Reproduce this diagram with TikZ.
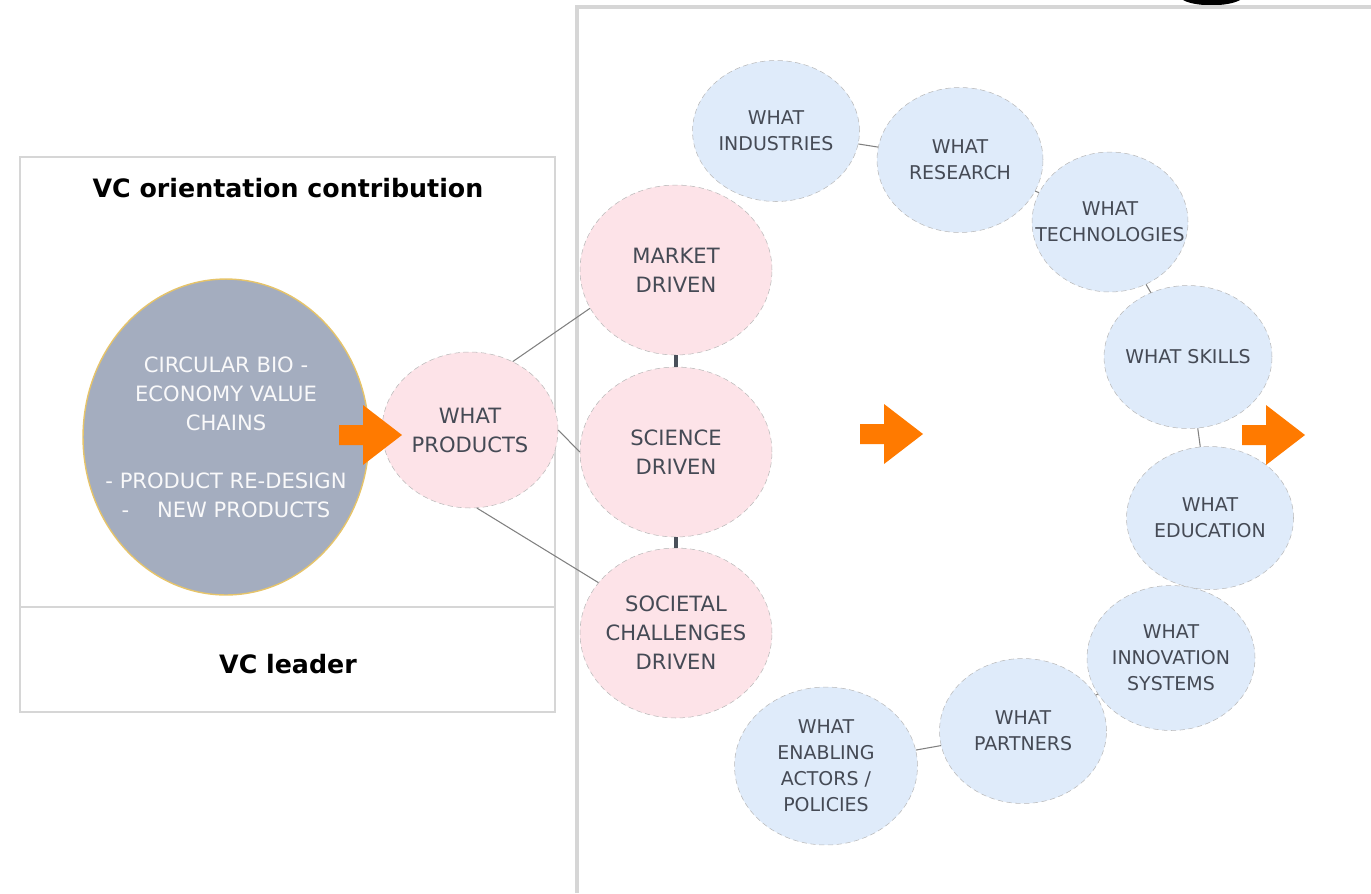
\documentclass[tikz,border=0pt]{standalone}
\usepackage{fontspec}
\setmainfont{DejaVu Sans}
\usepackage{tikz}
\usetikzlibrary{shapes.geometric,positioning}
\definecolor{pinkfill}{HTML}{FDE3E8}
\definecolor{bluefill}{HTML}{DFEBFA}
\definecolor{chainfill}{HTML}{A4ADBF}
\definecolor{chainrim}{HTML}{E6C46A}
\definecolor{textgray}{HTML}{454A55}
\definecolor{linkdark}{HTML}{4A505A}
\definecolor{panelgray}{HTML}{D6D6D6}
\definecolor{arroworange}{HTML}{FF7A00}
\tikzset{bubble/.style={ellipse, draw=gray!55, densely dashed, line width=0.3pt,
		inner sep=0pt},
	pinktext/.style={align=center, text=textgray, font=\fontsize{12}{16.5}\selectfont},
	bluetext/.style={align=center, text=textgray, font=\fontsize{10.8}{14.8}\selectfont},
	pinkbubble/.style={bubble, fill=pinkfill, label={[pinktext]center:{#1}}},
	bluebubble/.style={bubble, fill=bluefill, label={[bluetext]center:{#1}}},
	link/.style={draw=gray, line width=0.6pt},
	thicklink/.style={draw=linkdark, line width=2.8pt},
	panel/.style={draw=panelgray, line width=1.2pt}}
\tikzstyle{arrowfill}=[fill=arroworange]
\newcommand{\orangearrow}[1]{%
	\fill[arrowfill] (#1) ++(0,-10) -- ++(24,0) -- ++(0,-20) -- ++(39,30)
	-- ++(-39,30) -- ++(0,-20) -- ++(-24,0) -- cycle;}

\begin{document}
\begin{tikzpicture}[x=0.02cm, y=-0.02cm]
	\useasboundingbox (0,0) rectangle (1371,893);
	% panels
	\draw[panel] (20,157) rectangle (555,712);
	\draw[panel] (20,607) -- (555,607);
	\fill[black] (1183,0) .. controls (1195,7) and (1228,7) .. (1240,0) -- cycle;
	\draw[panel, line width=2pt] (577,893) -- (577,7) -- (1371,7);
	\node[font=\fontsize{14.4}{17}\selectfont\bfseries] (title) at (288,188) {VC orientation contribution};
	\node[font=\fontsize{14.4}{17}\selectfont\bfseries] (leader) at (288,664) {VC leader};
	
	% value chain and products
	\node[ellipse, draw=chainrim, line width=0.8pt, fill=chainfill, inner sep=0pt,
	minimum width=5.72cm, minimum height=6.32cm,
	label={[align=center, text=white!93!chainfill, font=\fontsize{12}{16.5}\selectfont]center:{CIRCULAR BIO -\\ ECONOMY VALUE\\ CHAINS\\[16.5pt]
		- PRODUCT RE-DESIGN\\ -\quad\ NEW PRODUCTS}}] (chain) at (226,437) {};
	\node[pinkbubble={WHAT\\ PRODUCTS}, minimum width=3.52cm, minimum height=3.12cm] (prod) at (470,430) {};
	\node[pinkbubble={MARKET\\ DRIVEN}, minimum width=3.84cm, minimum height=3.4cm] (mkt) at (676,270) {};
	\node[pinkbubble={SCIENCE\\ DRIVEN}, minimum width=3.84cm, minimum height=3.4cm] (sci) at (676,452) {};
	\node[pinkbubble={SOCIETAL\\ CHALLENGES\\ DRIVEN}, minimum width=3.84cm, minimum height=3.4cm] (soc) at (676,633) {};
	
	\draw[link] (prod.58) -- (mkt.204);
	\draw[link] (prod.east) -- (sci.west);
	\draw[link] (prod.275) -- (soc.147);
	\draw[thicklink] (mkt) -- (sci);
	\draw[thicklink] (sci) -- (soc);
	
	% the what-circle
	\node[bluebubble={WHAT\\ INDUSTRIES}, minimum width=3.34cm, minimum height=2.82cm] (ind) at (776,131) {};
	\node[bluebubble={WHAT\\ RESEARCH}, minimum width=3.32cm, minimum height=2.9cm] (res) at (960,160) {};
	\node[bluebubble={WHAT\\ TECHNOLOGIES}, minimum width=3.12cm, minimum height=2.8cm] (tech) at (1110,222) {};
	\node[bluebubble={WHAT SKILLS}, minimum width=3.36cm, minimum height=2.86cm] (skill) at (1188,357) {};
	\node[bluebubble={WHAT\\ EDUCATION}, minimum width=3.34cm, minimum height=2.86cm] (edu) at (1210,518) {};
	\node[bluebubble={WHAT\\ INNOVATION\\ SYSTEMS}, minimum width=3.36cm, minimum height=2.9cm] (inno) at (1171,658) {};
	\node[bluebubble={WHAT\\ PARTNERS}, minimum width=3.34cm, minimum height=2.9cm] (part) at (1023,731) {};
	\node[bluebubble={WHAT\\ ENABLING\\ ACTORS /\\ POLICIES}, minimum width=3.66cm, minimum height=3.16cm] (enab) at (826,766) {};
	
	\draw[link] (ind) -- (res);
	\draw[link] (res) -- (tech);
	\draw[link] (tech) -- (skill);
	\draw[link] (skill) -- (edu);
	\draw[link] (inno) -- (part);
	\draw[link] (part) -- (enab);
	
	% orange arrows
	\orangearrow{339,435}
	\orangearrow{860,434}
	\orangearrow{1242,435}
\end{tikzpicture}
\end{document}
